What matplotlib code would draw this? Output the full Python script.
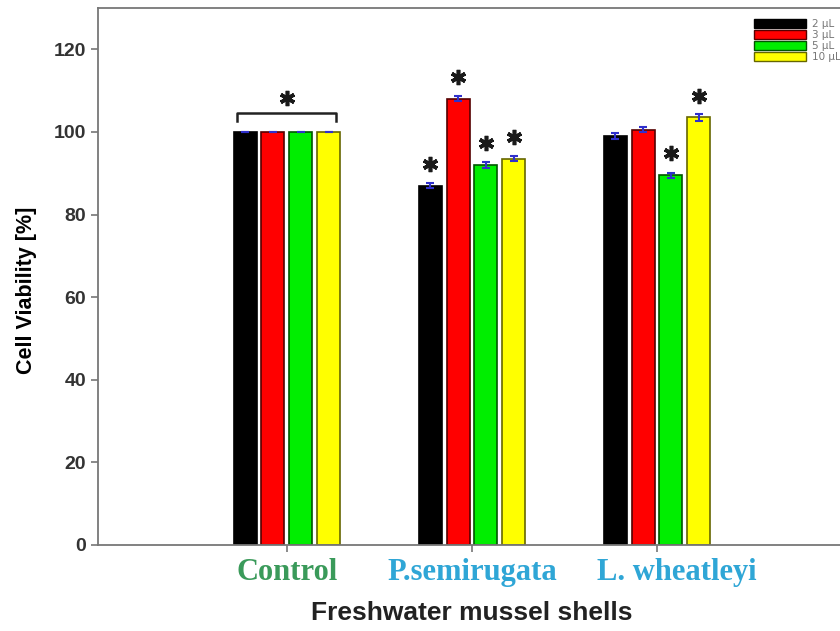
import numpy as np
import matplotlib.pyplot as plt
import matplotlib.transforms as mtransforms
from matplotlib.patches import Patch

# data
groups = ["Control", "P.semirugata", "L. wheatleyi"]
doses = ["2 µL", "3 µL", "5 µL", "10 µL"]
v_2ul = [100, 87, 99]
v_3ul = [100, 108, 100.5]
v_5ul = [100, 92, 89.5]
v_10ul = [100, 93.5, 103.5]
err_2ul = [0, 0.6, 0.8]
err_3ul = [0, 0.6, 0.6]
err_5ul = [0, 0.7, 0.6]
err_10ul = [0, 0.6, 0.8]
# significance marks (True = asterisk above the bar)
sig_2ul = [False, True, False]
sig_3ul = [False, True, False]
sig_5ul = [False, True, True]
sig_10ul = [False, True, True]

values = [v_2ul, v_3ul, v_5ul, v_10ul]
errors = [err_2ul, err_3ul, err_5ul, err_10ul]
sigs = [sig_2ul, sig_3ul, sig_5ul, sig_10ul]
colors = ["black", "#ff0000", "#00ee00", "#ffff00"]
edges = ["black", "#550000", "#005500", "#666600"]

fig = plt.figure(figsize=(8.4, 6.31), dpi=100)
ax = fig.add_axes([0.1167, 0.1363, 0.93, 0.851])

x = np.arange(1, len(groups) + 1)
w = 0.124
pitch = 0.15
star = dict(marker=(6, 2, 0), markersize=11, markeredgewidth=2.6,
            color="#1a1a1a", linestyle="none", zorder=4)
for i in range(4):
    pos = x + (i - 1.5) * pitch
    ax.bar(pos, values[i], width=w, color=colors[i], edgecolor=edges[i],
           linewidth=1.2, zorder=2)
    ax.errorbar(pos, values[i], yerr=errors[i], fmt="none", ecolor="#3030cc",
                elinewidth=1.5, capsize=3, capthick=1.5, zorder=3)
    for j in range(len(groups)):
        if sigs[i][j]:
            ax.plot(pos[j], values[i][j] + 5.3, **star)

# bracket over the control group
left = x[0] - 1.5 * pitch - w / 2 + 0.02
right = x[0] + 1.5 * pitch + w / 2 - 0.02
ax.plot([left, left, right, right], [102.6, 104.6, 104.6, 102.6],
        color="#222222", linewidth=1.8, zorder=4)
ax.plot(x[0], 108.2, **star)

ax.set_xlim(-0.02, 4.2)
ax.set_ylim(0, 130)
ax.set_yticks(np.arange(0, 121, 20))
ax.set_xticks(x)
ax.set_xticklabels([])

# category names (the last one sits a little right of its tick in the original)
label_colors = ["#3a9a5a", "#2fa6d6", "#2fa6d6"]
label_shift = [0, 0, 0.2]
for xi, name, c, dx in zip(x, groups, label_colors, label_shift):
    tr = ax.get_xaxis_transform() + mtransforms.ScaledTranslation(dx, -0.13, fig.dpi_scale_trans)
    ax.text(xi, 0, name, transform=tr, ha="center", va="top", color=c,
            family="Liberation Serif", fontweight="bold", fontsize=22)

for lab in ax.get_yticklabels():
    lab.set_family("Liberation Sans")
    lab.set_fontweight("bold")
    lab.set_fontsize(14)
    lab.set_color("#333333")

ax.tick_params(axis="both", direction="out", length=5, color="#777777", width=1.2)
for s in ax.spines.values():
    s.set_color("#777777")
    s.set_linewidth(1.3)

ax.set_ylabel("Cell Viability [%]", fontsize=15.5, fontweight="bold",
              family="Liberation Sans", labelpad=12, y=0.475)
ax.set_xlabel("Freshwater mussel shells", fontsize=19, fontweight="bold",
              family="Liberation Sans", labelpad=32, color="#222222", x=0.479)

handles = [Patch(facecolor=colors[i], edgecolor=edges[i], label=doses[i]) for i in range(4)]
fig.legend(handles=handles, loc="upper right", bbox_to_anchor=(1.012, 0.985),
           frameon=False, fontsize=7.5, handlelength=5.0, handleheight=0.95,
           labelspacing=0.1, handletextpad=0.6, labelcolor="#777777")

fig.savefig("out.png", dpi=100)
